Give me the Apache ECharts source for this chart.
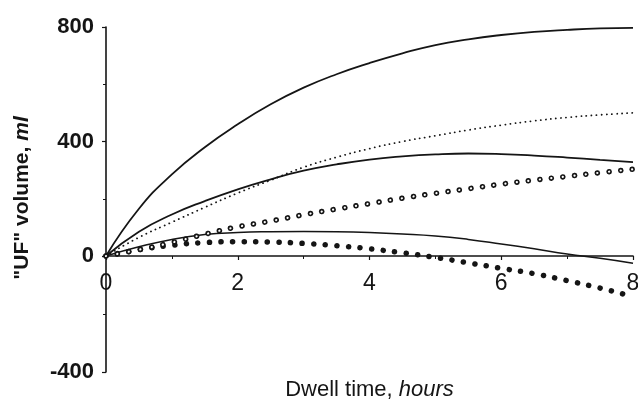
<!DOCTYPE html>
<html>
<head>
<meta charset="utf-8">
<script src="https://cdn.jsdelivr.net/npm/echarts@6/dist/echarts.min.js"></script>
<style>
  html, body { margin: 0; padding: 0; background: #fff; }
  #main { width: 638px; height: 401px; }
</style>
</head>
<body>
<div id="main"></div>
<script>
// dwell time, hours
var hours = [0, 0.5, 1, 1.5, 2, 2.5, 3, 3.5, 4, 4.5, 5, 5.5, 6, 6.5, 7, 7.5, 8];

// "UF" volume, ml
var upperSolid   = [0, 165, 285, 380, 460, 530, 588, 635, 674, 708, 737, 757, 772, 783, 790, 795, 797];
var smallDots    = [0, 65, 118, 170, 220, 265, 310, 345, 375, 400, 420, 440, 457, 472, 484, 493, 500];
var middleSolid  = [0, 85, 145, 192, 233, 268, 298, 320, 337, 348, 355, 358, 356, 351, 344, 336, 328];
var openCircles  = [0, 22, 47, 76, 102, 122, 144, 164, 183, 202, 219, 235, 251, 265, 278, 291, 303];
var lowerSolid   = [0, 32, 58, 75, 82, 85, 86, 85, 82, 77, 70, 58, 42, 25, 7, -8, -25];
var filledCircles = [0, 22, 37, 47, 50, 49, 44, 36, 25, 11, -5, -24, -43, -62, -86, -112, -142];

// the x axis sits on y = 0, so the y range is split in two stacked grids
var xTicks = [0, 2, 4, 6, 8];
var yTicksUpper = [0, 400, 800];
var yTicksLower = [-400, 0];

function pairs(vals) {
    return hours.map(function (h, i) { return [h, vals[i]]; });
}

var ink = '#151515';
var font = 'Liberation Sans, Arial, sans-serif';

function curve(vals, width, dash, color, z) {
    return {
        type: 'line',
        xAxisIndex: 0,
        yAxisIndex: 0,
        data: pairs(vals),
        smooth: 0.5,
        clip: false,
        showSymbol: false,
        silent: true,
        z: z || 2,
        lineStyle: {
            color: color || ink,
            width: width,
            type: dash || 'solid',
            cap: dash ? 'round' : 'butt'
        }
    };
}

var yAxisBase = {
    type: 'value',
    interval: 400,
    axisLine: { show: true, onZero: false, lineStyle: { color: ink, width: 1.6 } },
    axisTick: { length: 4, lineStyle: { color: ink, width: 1.2 } },
    minorTick: { show: true, splitNumber: 2, length: 3, lineStyle: { color: ink } },
    splitLine: { show: false },
    axisLabel: { fontFamily: font, fontSize: 22, fontWeight: 'bold', color: ink, margin: 12 }
};

var chart = echarts.init(document.getElementById('main'));
chart.setOption({
    animation: false,
    backgroundColor: '#fff',
    grid: [
        { left: 106, right: 5, top: 27, bottom: 145, containLabel: false, outerBoundsMode: 'none' },
        { left: 106, right: 5, top: 256, bottom: 29, containLabel: false, outerBoundsMode: 'none' }
    ],
    xAxis: [{
        gridIndex: 0,
        type: 'value',
        min: xTicks[0],
        max: xTicks[xTicks.length - 1],
        interval: 2,
        name: 'Dwell time, {i|hours}',
        nameLocation: 'middle',
        nameGap: 123,
        nameTextStyle: {
            fontFamily: font, fontSize: 22, color: ink,
            rich: { i: { fontFamily: font, fontSize: 22, fontStyle: 'italic', color: ink } }
        },
        axisLine: { onZero: false, lineStyle: { color: ink, width: 1.6 } },
        axisTick: { length: 4, lineStyle: { color: ink, width: 1.2 } },
        minorTick: { show: true, splitNumber: 2, length: 3, lineStyle: { color: ink } },
        splitLine: { show: false },
        axisLabel: { fontFamily: font, fontSize: 23, color: ink, margin: 16 }
    }, {
        gridIndex: 1,
        type: 'value',
        min: xTicks[0],
        max: xTicks[xTicks.length - 1],
        show: false
    }],
    yAxis: [
        Object.assign({}, yAxisBase, {
            gridIndex: 0,
            min: yTicksUpper[0],
            max: yTicksUpper[yTicksUpper.length - 1]
        }),
        Object.assign({}, yAxisBase, {
            gridIndex: 1,
            min: yTicksLower[0],
            max: yTicksLower[yTicksLower.length - 1],
            axisLabel: Object.assign({}, yAxisBase.axisLabel, { showMaxLabel: false })
        })
    ],
    graphic: [{
        type: 'text',
        x: 22,
        y: 198,
        rotation: Math.PI / 2,
        style: {
            text: '"UF" volume, {i|ml}',
            font: 'bold 21px ' + font,
            fill: ink,
            align: 'center',
            verticalAlign: 'middle',
            rich: { i: { font: 'italic bold 21px ' + font, fill: ink } }
        }
    }],
    series: [
        curve(upperSolid, 1.8),
        curve(smallDots, 1.8, [0.1, 5], ink),
        curve(middleSolid, 1.8),
        curve(lowerSolid, 1.5),
        curve(filledCircles, 5.5, [0.1, 11.5], ink, 3),
        curve(openCircles, 5.5, [0.1, 11.5], ink, 4),
        curve(openCircles, 2.2, [0.1, 11.5], '#fff', 5)
    ]
});
</script>
</body>
</html>
